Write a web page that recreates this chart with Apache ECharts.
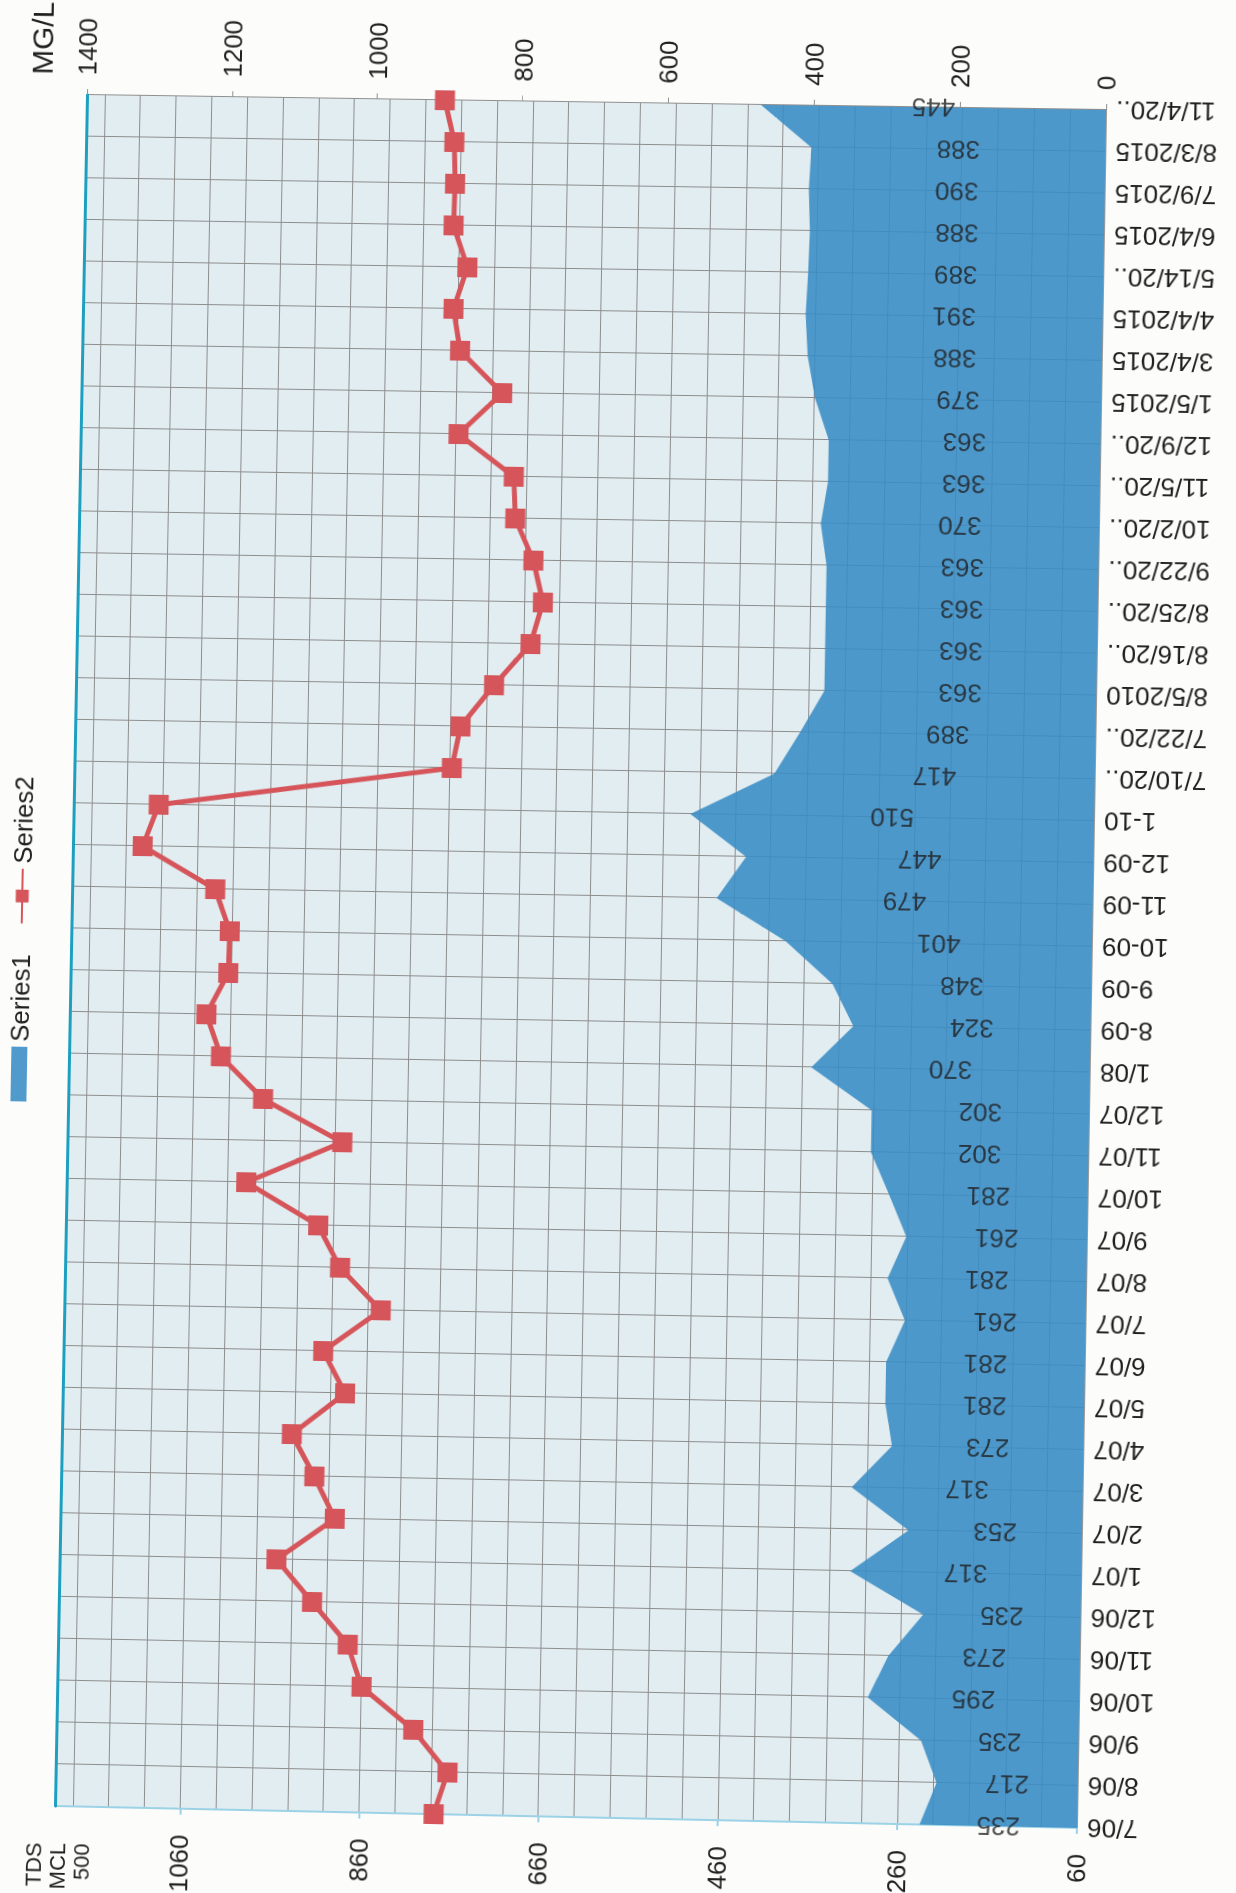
<!DOCTYPE html>
<html>
<head>
<meta charset="utf-8">
<title>TDS / MG/L</title>
<script src="https://cdn.jsdelivr.net/npm/echarts@6/dist/echarts.min.js"></script>
<style>
  html, body { margin: 0; padding: 0; width: 1236px; height: 1893px; overflow: hidden; background: #fcfcfb; }
  /* The chart is laid out landscape; a projective transform turns it onto the portrait page. */
  #chart {
    position: absolute;
    left: 0; top: 0;
    width: 1933px; height: 1236px;
    transform-origin: 0 0;
  }
</style>
</head>
<body>
<div id="chart"></div>
<script>
// Sample dates, oldest first
const dates = [
  '7/06', '8/06', '9/06', '10/06', '11/06', '12/06',
  '1/07', '2/07', '3/07', '4/07', '5/07', '6/07', '7/07', '8/07', '9/07', '10/07', '11/07', '12/07',
  '1/08', '8-09', '9-09', '10-09', '11-09', '12-09', '1-10',
  '7/10/20..', '7/22/20..', '8/5/2010', '8/16/20..', '8/25/20..', '9/22/20..', '10/2/20..', '11/5/20..', '12/9/20..',
  '1/5/2015', '3/4/2015', '4/4/2015', '5/14/20..', '6/4/2015', '7/9/2015', '8/3/2015', '11/4/20..'
];

// Series1 (area, labelled values)
const series1 = [
  235, 217, 235, 295, 273, 235,
  317, 253, 317, 273, 281, 281, 261, 281, 261, 281, 302, 302,
  370, 324, 348, 401, 479, 447, 510,
  417, 389, 363, 363, 363, 363, 370, 363, 363,
  379, 388, 391, 389, 388, 390, 388, 445
];

// Series2 (line with square markers), MG/L
const series2 = [
  880, 862, 910, 982, 1002, 1052,
  1102, 1023, 1052, 1084, 1012, 1043, 965, 1022, 1053, 1153, 1022, 1132,
  1191, 1212, 1183, 1182, 1203, 1304, 1283,
  881, 870, 825, 776, 760, 774, 800, 803, 880,
  821, 880, 890, 872, 892, 891, 893, 907
];

// Tick values of the two value axes
const tdsTicks = [60, 260, 460, 660, 860, 1060];
const tdsMax = 1200;
const tdsGridStep = 40;
const mgTicks = [0, 200, 400, 600, 800, 1000, 1200, 1400];

const FONT = '"Liberation Sans", Arial, Helvetica, sans-serif';
const INK = '#1f1f1f';
const GRID_LINE = '#8d8d8d';
const AREA_BLUE = 'rgba(56, 140, 197, 0.88)';
const RED = '#d5555a';

// Plot rectangle inside the landscape chart
const CW = 1933, CH = 1236;
const PLOT = { left: 108, top: 71, right: 103, bottom: 144 };

// --- place the landscape chart on the page (4-corner projective map) ---
function solveHomography(src, dst) {
  const A = [], rhs = [];
  for (let i = 0; i < 4; i++) {
    const [x, y] = src[i], [u, v] = dst[i];
    A.push([x, y, 1, 0, 0, 0, -x * u, -y * u]); rhs.push(u);
    A.push([0, 0, 0, x, y, 1, -x * v, -y * v]); rhs.push(v);
  }
  const n = 8;
  for (let c = 0; c < n; c++) {
    let p = c;
    for (let r = c + 1; r < n; r++) if (Math.abs(A[r][c]) > Math.abs(A[p][c])) p = r;
    [A[c], A[p]] = [A[p], A[c]]; [rhs[c], rhs[p]] = [rhs[p], rhs[c]];
    for (let r = 0; r < n; r++) {
      if (r === c) continue;
      const f = A[r][c] / A[c][c];
      for (let k = c; k < n; k++) A[r][k] -= f * A[c][k];
      rhs[r] -= f * rhs[c];
    }
  }
  return rhs.map((v, i) => v / A[i][i]);
}
(function placeChart() {
  const L = PLOT.left, T = PLOT.top, R = CW - PLOT.right, B = CH - PLOT.bottom;
  const src = [[L, T], [R, T], [L, B], [R, B]];
  const dst = [[55, 1806], [87, 95], [1077, 1828], [1106, 110]];
  const [a, b, c, d, e, f, g, h] = solveHomography(src, dst);
  document.getElementById('chart').style.transform =
    `matrix3d(${a},${d},0,${g},${b},${e},0,${h},0,0,1,0,${c},${f},0,1)`;
})();

const chart = echarts.init(document.getElementById('chart'), null, { width: CW, height: CH, renderer: 'svg' });

// Value labels sit halfway between the axis floor and each area value
const labelPoints = series1.map((v, i) => [i, (tdsTicks[0] + v) / 2, v]);

const option = {
  animation: false,
  textStyle: { fontFamily: FONT, color: INK },
  legend: {
    left: 810, top: 3,
    itemGap: 30, itemWidth: 55, itemHeight: 16,
    textStyle: { fontSize: 26, color: INK, fontFamily: FONT },
    data: [{ name: 'Series1', icon: 'rect' }, { name: 'Series2' }]
  },
  grid: {
    left: PLOT.left, right: PLOT.right, top: PLOT.top, bottom: PLOT.bottom,
    containLabel: false, outerBoundsMode: 'none',
    show: true, backgroundColor: '#e2edf1', borderWidth: 0
  },
  xAxis: [
    {
      type: 'category', data: dates, boundaryGap: false, position: 'bottom',
      axisLine: { show: true, lineStyle: { color: '#9a9a9a', width: 1 } },
      axisTick: { show: false },
      axisLabel: { rotate: 90, fontSize: 26, color: INK, margin: 10, interval: 0, fontFamily: FONT },
      splitLine: { show: true, interval: 0, lineStyle: { color: GRID_LINE, width: 1 } }
    },
    {
      // upper frame edge of the plot
      type: 'category', data: dates, boundaryGap: false, position: 'top',
      axisLine: { show: true, lineStyle: { color: '#1d9fc0', width: 3 } },
      axisTick: { show: false }, axisLabel: { show: false }, splitLine: { show: false }
    }
  ],
  yAxis: [
    {
      type: 'value', position: 'left',
      min: tdsTicks[0], max: tdsMax, interval: tdsTicks[1] - tdsTicks[0],
      name: 'TDS\nMCL\n500', nameLocation: 'end', nameGap: -3,
      nameTextStyle: { align: 'right', verticalAlign: 'middle', fontSize: 22, lineHeight: 24, color: INK, padding: [0, 37, 0, 0], fontFamily: FONT },
      axisLine: { show: true, lineStyle: { color: '#9bd2e6', width: 2 } },
      axisTick: { show: true, length: 6, lineStyle: { color: '#9bd2e6', width: 2 } },
      axisLabel: { fontSize: 26, margin: 26, showMaxLabel: false, color: INK, fontFamily: FONT, formatter: v => String(v) },
      splitLine: { show: false }
    },
    {
      type: 'value', position: 'right',
      min: mgTicks[0], max: mgTicks[mgTicks.length - 1], interval: mgTicks[1] - mgTicks[0],
      name: 'MG/L', nameLocation: 'end', nameGap: 46,
      nameTextStyle: { align: 'left', verticalAlign: 'middle', fontSize: 30, color: INK, padding: [0, 0, 0, 20], fontFamily: FONT },
      axisLine: { show: true, lineStyle: { color: '#8f8f8f', width: 1 } },
      axisTick: { show: true, length: 6, lineStyle: { color: '#8f8f8f' } },
      axisLabel: { fontSize: 26, margin: 20, color: INK, fontFamily: FONT, formatter: v => String(v) },
      splitLine: { show: false }
    },
    {
      // fine grid every 40 units on the TDS scale
      type: 'value', position: 'left',
      min: tdsTicks[0], max: tdsMax, interval: tdsGridStep,
      axisLine: { show: false }, axisTick: { show: false }, axisLabel: { show: false },
      splitLine: { show: true, lineStyle: { color: GRID_LINE, width: 1 } }
    }
  ],
  series: [
    {
      name: 'Series1', type: 'line', xAxisIndex: 0, yAxisIndex: 0,
      data: series1, symbol: 'none',
      lineStyle: { width: 0 },
      itemStyle: { color: AREA_BLUE },
      areaStyle: { color: AREA_BLUE, origin: 'start', opacity: 1 },
      z: 2
    },
    {
      name: 'Series1 values', type: 'scatter', xAxisIndex: 0, yAxisIndex: 0,
      data: labelPoints, symbolSize: 0, silent: true,
      label: {
        show: true, position: 'inside', rotate: 90,
        formatter: p => String(p.data[2]),
        fontSize: 26, color: INK, fontFamily: FONT
      },
      z: 4
    },
    {
      name: 'Series2', type: 'line', xAxisIndex: 0, yAxisIndex: 1,
      data: series2, symbol: 'rect', symbolSize: 20,
      itemStyle: { color: RED },
      lineStyle: { color: RED, width: 5 },
      z: 5
    }
  ]
};

chart.setOption(option);
</script>
</body>
</html>
